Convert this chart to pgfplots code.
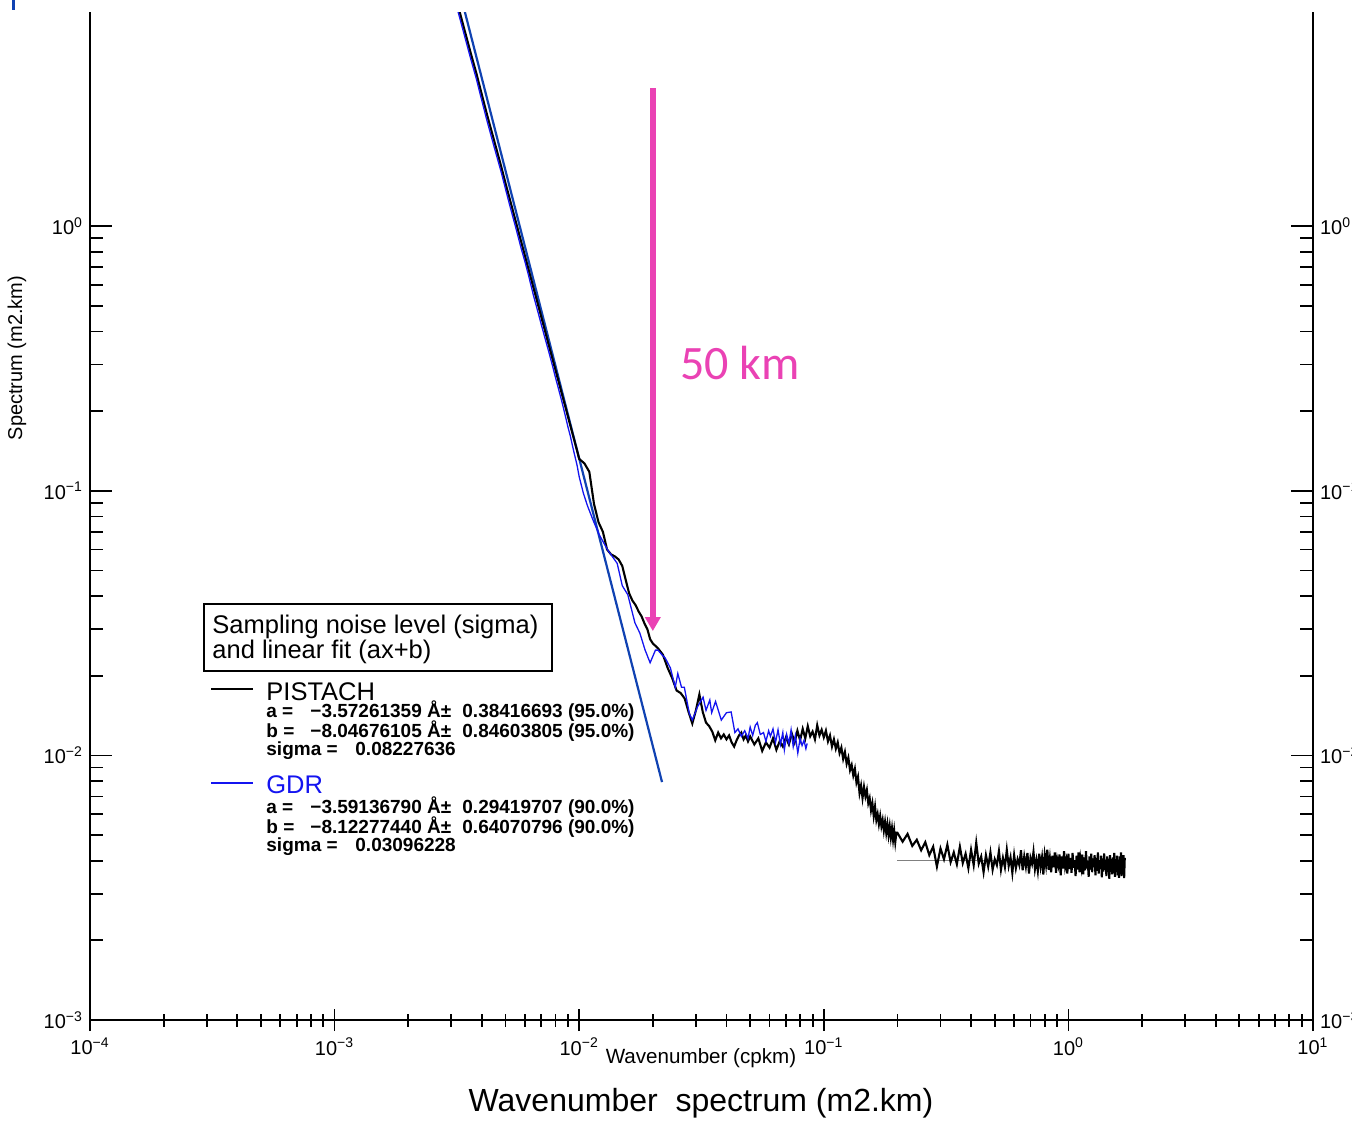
\documentclass[border=0pt]{standalone}
\usepackage{fontspec}
\setmainfont{Liberation Sans}
\newfontfamily\carlito{Carlito}
\usepackage{pgfplots}
\pgfplotsset{compat=1.18}
\usepackage{pgfplotstable}
\usetikzlibrary{arrows.meta}
\definecolor{fitblue}{RGB}{16,66,178}
\definecolor{gdrblue}{RGB}{20,20,240}
\definecolor{pinkc}{RGB}{234,66,180}

\pgfplotstableread{
k S
0.0031 7.57
0.0033 6.10
0.0036 4.52
0.0038 3.78
0.0040 3.14
0.0042 2.64
0.0045 2.09
0.0048 1.68
0.0050 1.451
0.0052 1.268
0.0055 1.044
0.0058 0.869
0.0060 0.773
0.0062 0.690
0.0065 0.586
0.0068 0.502
0.0070 0.454
0.0072 0.412
0.0075 0.357
0.0078 0.312
0.0080 0.286
0.0082 0.263
0.0085 0.232
0.0088 0.206
0.0090 0.1905
0.0092 0.1765
0.0095 0.158
0.0098 0.1419
0.0100 0.132
0.0105 0.127
0.0110 0.118
0.0115 0.089
0.0120 0.076
0.0125 0.070
0.0130 0.060
0.0135 0.0575
0.0140 0.0565
0.0145 0.055
0.0150 0.052
0.0155 0.046
0.0160 0.041
0.0165 0.0385
0.0170 0.037
0.0175 0.035
0.0180 0.0335
0.0185 0.0315
0.0190 0.030
0.0195 0.0275
0.0200 0.0265
0.021 0.0254
0.022 0.0240
0.023 0.0214
0.024 0.0196
0.025 0.0176
0.026 0.0172
0.027 0.0164
0.028 0.0146
0.029 0.0132
0.030 0.0148
0.031 0.0170
0.032 0.0146
0.033 0.0133
0.034 0.0129
0.035 0.0123
0.036 0.0114
0.037 0.0122
0.038 0.0116
0.039 0.0120
0.040 0.0115
0.041 0.0119
0.042 0.0112
0.043 0.0108
0.044 0.0114
0.045 0.0119
0.046 0.0122
0.047 0.0115
0.048 0.0119
0.049 0.0113
0.050 11.8e-3
0.052 11.0e-3
0.054 11.6e-3
0.056 10.4e-3
0.058 11.2e-3
0.060 10.7e-3
0.062 11.6e-3
0.064 10.5e-3
0.066 11.3e-3
0.068 10.8e-3
0.070 11.7e-3
0.072 11.0e-3
0.074 12.1e-3
0.076 11.2e-3
0.078 12.4e-3
0.080 11.4e-3
0.082 12.6e-3
0.084 11.6e-3
0.086 12.9e-3
0.088 11.8e-3
0.090 12.3e-3
0.092 11.5e-3
0.094 13.0e-3
0.096 11.9e-3
0.098 12.5e-3
0.100 11.7e-3
0.102 12.4e-3
0.104 11.3e-3
0.106 11.9e-3
0.108 10.8e-3
0.110 11.5e-3
0.112 10.6e-3
0.114 11.2e-3
0.116 10.2e-3
0.118 10.7e-3
0.120 9.7e-3
0.122 10.3e-3
0.124 9.3e-3
0.126 9.8e-3
0.128 8.8e-3
0.130 9.2e-3
0.132 8.4e-3
0.134 8.9e-3
0.136 7.9e-3
0.138 8.3e-3
0.140 7.2e-3
0.142 7.7e-3
0.144 6.9e-3
0.146 7.6e-3
0.148 7.0e-3
0.150 7.4e-3
0.152 6.6e-3
0.154 6.9e-3
0.156 6.2e-3
0.158 6.6e-3
0.160 5.9e-3
0.162 6.4e-3
0.164 5.7e-3
0.166 6.0e-3
0.168 5.5e-3
0.170 5.9e-3
0.172 5.4e-3
0.174 5.7e-3
0.176 5.2e-3
0.178 5.6e-3
0.180 5.1e-3
0.182 5.5e-3
0.184 5.0e-3
0.186 5.4e-3
0.188 4.9e-3
0.190 5.3e-3
0.192 4.8e-3
0.194 5.2e-3
0.196 4.7e-3
0.198 5.1e-3
0.20 5.10e-3
0.21 4.72e-3
0.22 5.05e-3
0.23 4.55e-3
0.24 4.80e-3
0.25 4.38e-3
0.26 4.70e-3
0.27 4.20e-3
0.28 4.52e-3
0.29 3.80e-3
0.30 4.45e-3
0.31 4.05e-3
0.32 4.60e-3
0.33 3.95e-3
0.34 4.30e-3
0.35 3.88e-3
0.36 4.52e-3
0.37 3.92e-3
0.38 4.25e-3
0.39 3.75e-3
0.40 4.40e-3
0.41 3.85e-3
0.42 4.68e-3
0.43 3.90e-3
0.44 4.15e-3
0.45 3.62e-3
0.46 4.20e-3
0.47 3.80e-3
0.48 4.30e-3
0.49 3.70e-3
0.50 4.05e-3
0.51 3.85e-3
0.52 4.35e-3
0.53 3.70e-3
0.54 4.10e-3
0.55 3.78e-3
0.56 4.40e-3
0.57 3.82e-3
0.58 4.12e-3
0.59 3.60e-3
0.60 4.20e-3
0.61 3.75e-3
0.62 4.05e-3
0.63 3.85e-3
0.64 4.38e-3
0.65 3.68e-3
0.66 4.15e-3
0.67 3.80e-3
0.68 4.28e-3
0.69 3.58e-3
0.70 4.10e-3
0.71 3.90e-3
0.72 4.32e-3
0.73 3.72e-3
0.74 4.02e-3
0.75 3.66e-3
0.76 4.25e-3
0.77 3.80e-3
0.78 4.12e-3
0.79 3.55e-3
0.80 4.20e-3
0.81 3.85e-3
0.82 4.40e-3
0.83 3.70e-3
0.84 4.08e-3
0.85 3.62e-3
0.86 4.18e-3
0.87 3.78e-3
0.88 4.30e-3
0.89 3.60e-3
0.90 4.05e-3
0.91 3.85e-3
0.92 4.22e-3
0.93 3.52e-3
0.94 4.15e-3
0.95 3.74e-3
0.96 4.35e-3
0.97 3.80e-3
0.98 4.00e-3
0.99 3.58e-3
1.00 4.25e-3
1.01 3.72e-3
1.02 4.10e-3
1.03 3.60e-3
1.04 4.28e-3
1.05 3.76e-3
1.06 4.02e-3
1.07 3.50e-3
1.08 4.18e-3
1.09 3.70e-3
1.10 4.30e-3
1.11 3.62e-3
1.12 4.05e-3
1.13 3.80e-3
1.14 4.22e-3
1.15 3.55e-3
1.16 4.12e-3
1.17 3.68e-3
1.18 4.35e-3
1.19 3.74e-3
1.20 4.00e-3
1.21 3.48e-3
1.22 4.15e-3
1.23 3.70e-3
1.24 4.25e-3
1.25 3.62e-3
1.26 4.08e-3
1.27 3.78e-3
1.28 4.20e-3
1.29 3.52e-3
1.30 4.10e-3
1.31 3.66e-3
1.32 4.30e-3
1.33 3.58e-3
1.34 4.02e-3
1.35 3.72e-3
1.36 4.18e-3
1.37 3.46e-3
1.38 4.08e-3
1.39 3.64e-3
1.40 4.26e-3
1.41 3.70e-3
1.42 3.98e-3
1.43 3.50e-3
1.44 4.15e-3
1.45 3.62e-3
1.46 4.05e-3
1.47 3.42e-3
1.48 4.20e-3
1.49 3.68e-3
1.50 4.00e-3
1.51 3.55e-3
1.52 4.12e-3
1.53 3.60e-3
1.54 4.28e-3
1.55 3.48e-3
1.56 4.05e-3
1.57 3.66e-3
1.58 4.18e-3
1.59 3.52e-3
1.60 4.02e-3
1.61 3.45e-3
1.62 4.15e-3
1.63 3.62e-3
1.64 4.30e-3
1.65 3.50e-3
1.66 4.08e-3
1.67 3.58e-3
1.68 4.20e-3
1.69 3.44e-3
1.70 4.10e-3
}\pistach

\pgfplotstableread{
k S
0.0031 7.20
0.0033 5.80
0.0036 4.30
0.0038 3.60
0.0040 2.98
0.0042 2.50
0.0045 1.98
0.0048 1.60
0.0050 1.38
0.0052 1.20
0.0055 0.99
0.0058 0.82
0.0060 0.735
0.0062 0.655
0.0065 0.548
0.0068 0.470
0.0070 0.425
0.0072 0.386
0.0075 0.337
0.0078 0.294
0.0080 0.268
0.0082 0.246
0.0085 0.217
0.0088 0.190
0.0090 0.174
0.0092 0.161
0.0095 0.141
0.0098 0.125
0.0100 0.113
0.0104 0.098
0.0108 0.088
0.0114 0.0774
0.0121 0.068
0.0131 0.0596
0.0143 0.0532
0.0150 0.0438
0.0158 0.0405
0.0169 0.0317
0.0177 0.0290
0.0186 0.0250
0.0195 0.0224
0.0205 0.0250
0.0210 0.0250
0.0218 0.0240
0.0225 0.0233
0.0236 0.0214
0.0247 0.0181
0.0253 0.0204
0.0262 0.0181
0.0269 0.0181
0.0282 0.0144
0.0290 0.0136
0.0305 0.0153
0.0321 0.0166
0.0330 0.0148
0.0342 0.0162
0.0348 0.0145
0.0361 0.0160
0.0381 0.0136
0.0400 0.0145
0.0418 0.0146
0.0433 0.0122
0.0446 0.0126
0.0460 0.0118
0.0475 0.0124
0.0490 0.0116
0.0500 0.0128
0.0512 0.0119
0.0525 0.0130
0.0535 0.0133
0.0550 0.0120
0.0567 0.0122
0.0580 0.0113
0.0595 0.0124
0.0605 0.0118
0.0620 0.0126
0.0635 0.0112
0.0650 0.0125
0.0665 0.0110
0.0680 0.0122
0.0690 0.0105
0.0705 0.0120
0.0720 0.0111
0.0735 0.0125
0.0750 0.0108
0.0765 0.0119
0.0783 0.0102
0.0800 0.0116
0.0815 0.0109
0.0830 0.0114
0.0845 0.0106
0.0855 0.0111
}\gdr

\begin{document}
\begin{tikzpicture}
\begin{axis}[
  at={(0pt,0pt)}, anchor=south west,
  scale only axis, width=611.5pt, height=504pt,
  xmode=log, ymode=log,
  xmin=1e-4, xmax=10, ymin=1e-3, ymax=6.45,
  axis x line=bottom, axis y line=box,
  axis line style={-, line width=1.1pt},
  xtick={1e-4,1e-3,1e-2,1e-1,1,10},
  xticklabels={10\textsuperscript{−4},10\textsuperscript{−3},10\textsuperscript{−2},10\textsuperscript{−1},10\textsuperscript{0},10\textsuperscript{1}},
  ytick={1e-3,1e-2,1e-1,1},
  yticklabels={10\textsuperscript{−3},10\textsuperscript{−2},10\textsuperscript{−1},10\textsuperscript{0}},
  major tick length=11pt, minor tick length=6.5pt,
  tick style={black, line width=0.9pt},
  tick label style={font=\fontsize{10}{12}\selectfont},
]
\addplot[gray, line width=0.6pt] coordinates {(0.20,0.0040) (0.60,0.0040)};
\addplot[fitblue, line width=1.1pt] coordinates {(0.0033,7.26) (0.02181,0.00793)};
\addplot[black, line width=1.05pt] table[x=k, y=S] {\pistach};
\addplot[gdrblue, line width=0.65pt] table[x=k, y=S] {\gdr};
\draw[pinkc, line width=2.8pt, -{Triangle[width=7.5pt,length=7pt]}] (axis cs:0.02,3.32) -- (axis cs:0.02,0.0295);
\node[text=pinkc, font=\carlito\fontsize{24}{28}\selectfont] at (axis cs:0.04545,0.3034) {50 km};
\end{axis}
\begin{axis}[
  at={(0pt,0pt)}, anchor=south west,
  scale only axis, width=611.5pt, height=504pt,
  xmode=log, ymode=log,
  xmin=1e-4, xmax=10, ymin=1e-3, ymax=6.45,
  hide x axis,
  axis y line*=right, axis line style={draw=none},
  ytick={1e-3,1e-2,1e-1,1},
  yticklabels={10\textsuperscript{−3},10\textsuperscript{−2},10\textsuperscript{−1},10\textsuperscript{0}},
  yticklabel pos=right,
  yminorticks=false, major tick length=0pt, tick style={draw=none},
  tick label style={font=\fontsize{10}{12}\selectfont},
]
\end{axis}
% legend
\draw[line width=1pt] (57pt,174.5pt) rectangle (231pt,208pt);
\node[anchor=base west, inner sep=0pt, font=\fontsize{12.75}{13}\selectfont] at (61pt,193.5pt) {Sampling noise level (sigma)};
\node[anchor=base west, inner sep=0pt, font=\fontsize{12.75}{13}\selectfont] at (61pt,181pt) {and linear fit (ax+b)};
\draw[black, line width=1pt] (60.5pt,165.5pt) -- (81.5pt,165.5pt);
\node[anchor=base west, inner sep=0pt, font=\fontsize{12.75}{13}\selectfont] at (88pt,160pt) {PISTACH};
\begin{scope}[every node/.style={anchor=base west, inner sep=0pt, font=\bfseries\fontsize{9.5}{10}\selectfont}]
\node at (88pt,151.5pt) {a =};
\node at (110pt,151.5pt) {−3.57261359 Å±};
\node at (186pt,151.5pt) {0.38416693 (95.0\%)};
\node at (88pt,141.5pt) {b =};
\node at (110pt,141.5pt) {−8.04676105 Å±};
\node at (186pt,141.5pt) {0.84603805 (95.0\%)};
\node at (88pt,132.5pt) {sigma =};
\node at (132.5pt,132.5pt) {0.08227636};
\node at (88pt,103.5pt) {a =};
\node at (110pt,103.5pt) {−3.59136790 Å±};
\node at (186pt,103.5pt) {0.29419707 (90.0\%)};
\node at (88pt,93.5pt) {b =};
\node at (110pt,93.5pt) {−8.12277440 Å±};
\node at (186pt,93.5pt) {0.64070796 (90.0\%)};
\node at (88pt,84.5pt) {sigma =};
\node at (132.5pt,84.5pt) {0.03096228};
\end{scope}
\draw[gdrblue, line width=0.6pt] (60.5pt,118.5pt) -- (81.5pt,118.5pt);
\node[anchor=base west, inner sep=0pt, text=gdrblue, font=\fontsize{12.75}{13}\selectfont] at (88pt,113.5pt) {GDR};
% axis titles
\node[rotate=90, font=\fontsize{10}{12}\selectfont] at (-36.5pt,331pt) {Spectrum (m2.km)};
\node[font=\fontsize{10.3}{12}\selectfont] at (305.5pt,-19pt) {Wavenumber (cpkm)};
\node[font=\fontsize{16}{19}\selectfont] at (305.5pt,-41.5pt) {Wavenumber\ \ spectrum (m2.km)};
\draw[fitblue, line width=1.5pt] (-38pt,510pt) -- (-38pt,505pt);
\pgfresetboundingbox
\useasboundingbox (-45pt,-50pt) rectangle (631pt,510pt);
\end{tikzpicture}
\end{document}
